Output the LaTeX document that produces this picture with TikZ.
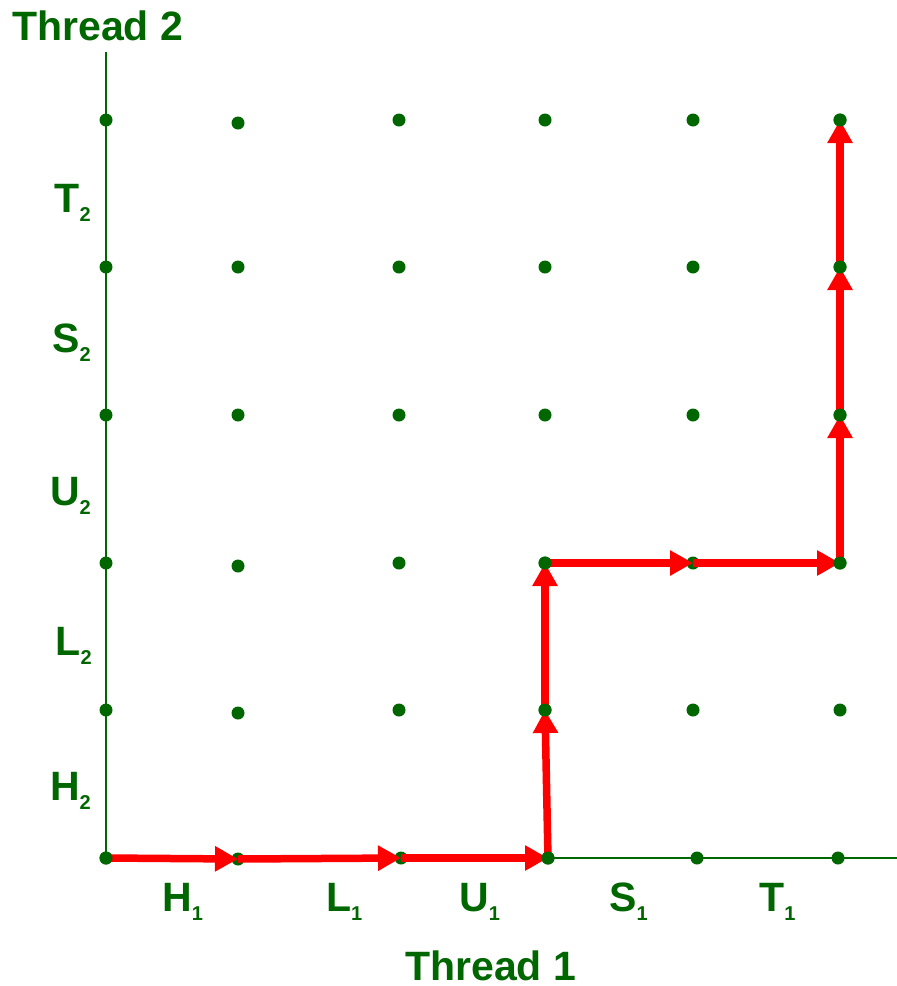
\documentclass[tikz,border=0pt]{standalone}
\usepackage{fontspec}
\setmainfont{Liberation Sans}
\usetikzlibrary{arrows.meta}
\definecolor{dgreen}{RGB}{0,102,0}
\definecolor{pathred}{RGB}{255,0,0}
\newcommand\sublab[2]{#1\raisebox{-9pt}{\fontsize{20}{20}\selectfont #2}}
\tikzset{
  dot/.style={circle,fill=dgreen,inner sep=0pt,minimum size=13pt},
  axis/.style={draw=dgreen,line width=2.2pt},
  redarrow/.style={draw=pathred,line width=7.5pt,-{Triangle[length=23pt,width=24pt]}},
  lbl/.style={text=dgreen,inner sep=0pt,font=\fontsize{41}{41}\selectfont\bfseries},
}
\begin{document}
\begin{tikzpicture}[x=1pt,y=-1pt]
\useasboundingbox (0,0) rectangle (897,986);
% axes
\coordinate (ytop) at (106,52);
\coordinate (xend) at (897,858);
\coordinate (orig) at (106,858);
\draw[axis] (ytop) -- (orig) -- (xend);
% grid dots (columns 0..5, rows 0..5 from bottom)
\node[dot] (d00) at (106,858) {};
\node[dot] (d10) at (238,859) {};
\node[dot] (d20) at (401,858) {};
\node[dot] (d30) at (548,858) {};
\node[dot] (d40) at (697,858) {};
\node[dot] (d50) at (838,858) {};
\node[dot] (d01) at (106,710) {};
\node[dot] (d11) at (238,713) {};
\node[dot] (d21) at (399,710) {};
\node[dot] (d31) at (545,710) {};
\node[dot] (d41) at (693,710) {};
\node[dot] (d51) at (840,710) {};
\node[dot] (d02) at (106,563) {};
\node[dot] (d12) at (238,566) {};
\node[dot] (d22) at (399,563) {};
\node[dot] (d32) at (545,563) {};
\node[dot] (d42) at (693,563) {};
\node[dot] (d52) at (840,563) {};
\node[dot] (d03) at (106,415) {};
\node[dot] (d13) at (238,415) {};
\node[dot] (d23) at (399,415) {};
\node[dot] (d33) at (545,415) {};
\node[dot] (d43) at (693,415) {};
\node[dot] (d53) at (840,415) {};
\node[dot] (d04) at (106,267) {};
\node[dot] (d14) at (238,267) {};
\node[dot] (d24) at (399,267) {};
\node[dot] (d34) at (545,267) {};
\node[dot] (d44) at (693,267) {};
\node[dot] (d54) at (840,267) {};
\node[dot] (d05) at (106,120) {};
\node[dot] (d15) at (238,123) {};
\node[dot] (d25) at (399,120) {};
\node[dot] (d35) at (545,120) {};
\node[dot] (d45) at (693,120) {};
\node[dot] (d55) at (840,120) {};
% red trajectory
\draw[redarrow] (d00.center) -- (d10.center);
\draw[redarrow] (d10.center) -- (d20.center);
\draw[redarrow] (d20.center) -- (d30.center);
\draw[redarrow] (d30.center) -- (d31.center);
\draw[redarrow] (d31.center) -- (d32.center);
\draw[redarrow] (d32.center) -- (d42.center);
\draw[redarrow] (d42.center) -- (d52.center);
\draw[redarrow] (d52.center) -- (d53.center);
\draw[redarrow] (d53.center) -- (d54.center);
\draw[redarrow] (d54.center) -- (d55.center);
% dots on path drawn again on top
\foreach \n in {d00,d31,d32,d52,d53,d54,d55,d30}{
  \fill[dgreen] (\n) circle (6.5pt);
}
% axis titles
\node[lbl,anchor=base west] (t2) at (12,40) {Thread 2};
\node[lbl,anchor=base west] (t1) at (405,980) {Thread 1};
% thread 1 labels
\node[lbl,anchor=base west] (h1) at (162,911) {\sublab{H}{1}};
\node[lbl,anchor=base west] (l1) at (326,911) {\sublab{L}{1}};
\node[lbl,anchor=base west] (u1) at (459,911) {\sublab{U}{1}};
\node[lbl,anchor=base west] (s1) at (609,911) {\sublab{S}{1}};
\node[lbl,anchor=base west] (tt1) at (759,911) {\sublab{T}{1}};
% thread 2 labels
\node[lbl,anchor=base east] (tt2) at (91,212) {\sublab{T}{2}};
\node[lbl,anchor=base east] (s2) at (91,352) {\sublab{S}{2}};
\node[lbl,anchor=base east] (u2) at (91,505) {\sublab{U}{2}};
\node[lbl,anchor=base east] (l2) at (92,655) {\sublab{L}{2}};
\node[lbl,anchor=base east] (h2) at (91,800) {\sublab{H}{2}};
\end{tikzpicture}
\end{document}
